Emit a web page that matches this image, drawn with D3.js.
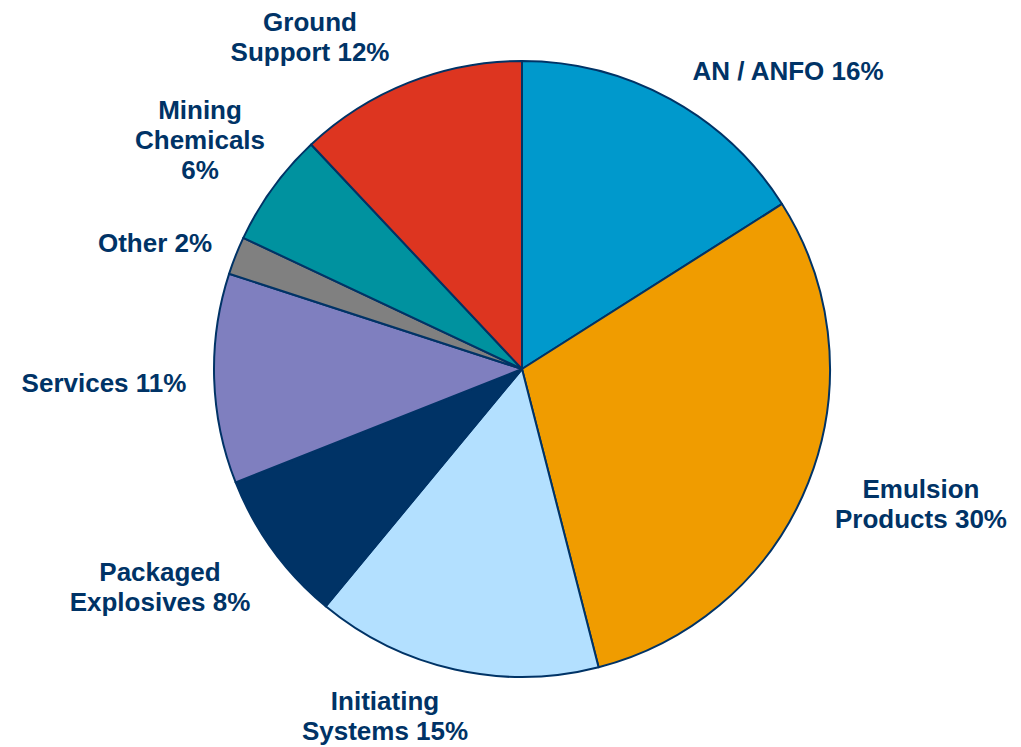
<!DOCTYPE html>
<html>
<head>
<meta charset="utf-8">
<script src="https://cdn.jsdelivr.net/npm/d3@7"></script>
<style>
  html, body { margin: 0; padding: 0; background: #fff; }
  svg { display: block; }
  text { font-family: "Liberation Sans", Arial, Helvetica, sans-serif; font-weight: bold; fill: #003366; }
</style>
</head>
<body>
<svg id="chart" width="1021" height="747"></svg>
<script>
// Product mix, share of total (%), clockwise from 12 o'clock
const categories = ["AN / ANFO", "Emulsion Products", "Initiating Systems", "Packaged Explosives",
                    "Services", "Other", "Mining Chemicals", "Ground Support"];
const shares = [16, 30, 15, 8, 11, 2, 6, 12];
const colors = ["#0099CC", "#F09C00", "#B3E0FF", "#003366", "#7F7FBF", "#808080", "#00929F", "#DD3520"];

// Label text lines for each slice
const labelLines = [
  ["AN / ANFO 16%"],
  ["Emulsion", "Products 30%"],
  ["Initiating", "Systems 15%"],
  ["Packaged", "Explosives 8%"],
  ["Services 11%"],
  ["Other 2%"],
  ["Mining", "Chemicals", "6%"],
  ["Ground", "Support 12%"]
];

// Centre point of each label block, relative to the pie centre
const labelOffsets = [
  [266, -298], [399, 135], [-137, 347], [-362, 218],
  [-418, 14], [-367, -126], [-322, -229], [-212, -332]
];

const width = 1021, height = 747;
const cx = 522, cy = 369, radius = 308;
const lineHeight = 30;

const svg = d3.select("#chart");
const g = svg.append("g").attr("transform", `translate(${cx},${cy})`);

const data = categories.map((c, i) => ({ name: c, value: shares[i], color: colors[i], lines: labelLines[i], off: labelOffsets[i] }));

const pie = d3.pie().value(d => d.value).sort(null);
const arc = d3.arc().innerRadius(0).outerRadius(radius);

g.selectAll("path.slice")
  .data(pie(data))
  .join("path")
  .attr("class", "slice")
  .attr("d", arc)
  .attr("fill", d => d.data.color)
  .attr("stroke", "#003366")
  .attr("stroke-width", 2)
  .attr("stroke-linejoin", "round");

const labels = g.selectAll("text.label")
  .data(data)
  .join("text")
  .attr("class", "label")
  .attr("text-anchor", "middle")
  .attr("font-size", 26);

labels.each(function(d) {
  const t = d3.select(this);
  const n = d.lines.length;
  d.lines.forEach((line, j) => {
    t.append("tspan")
      .attr("x", d.off[0])
      .attr("y", d.off[1] + (j - (n - 1) / 2) * lineHeight)
      .attr("dy", "0.35em")
      .text(line);
  });
});
</script>
</body>
</html>
